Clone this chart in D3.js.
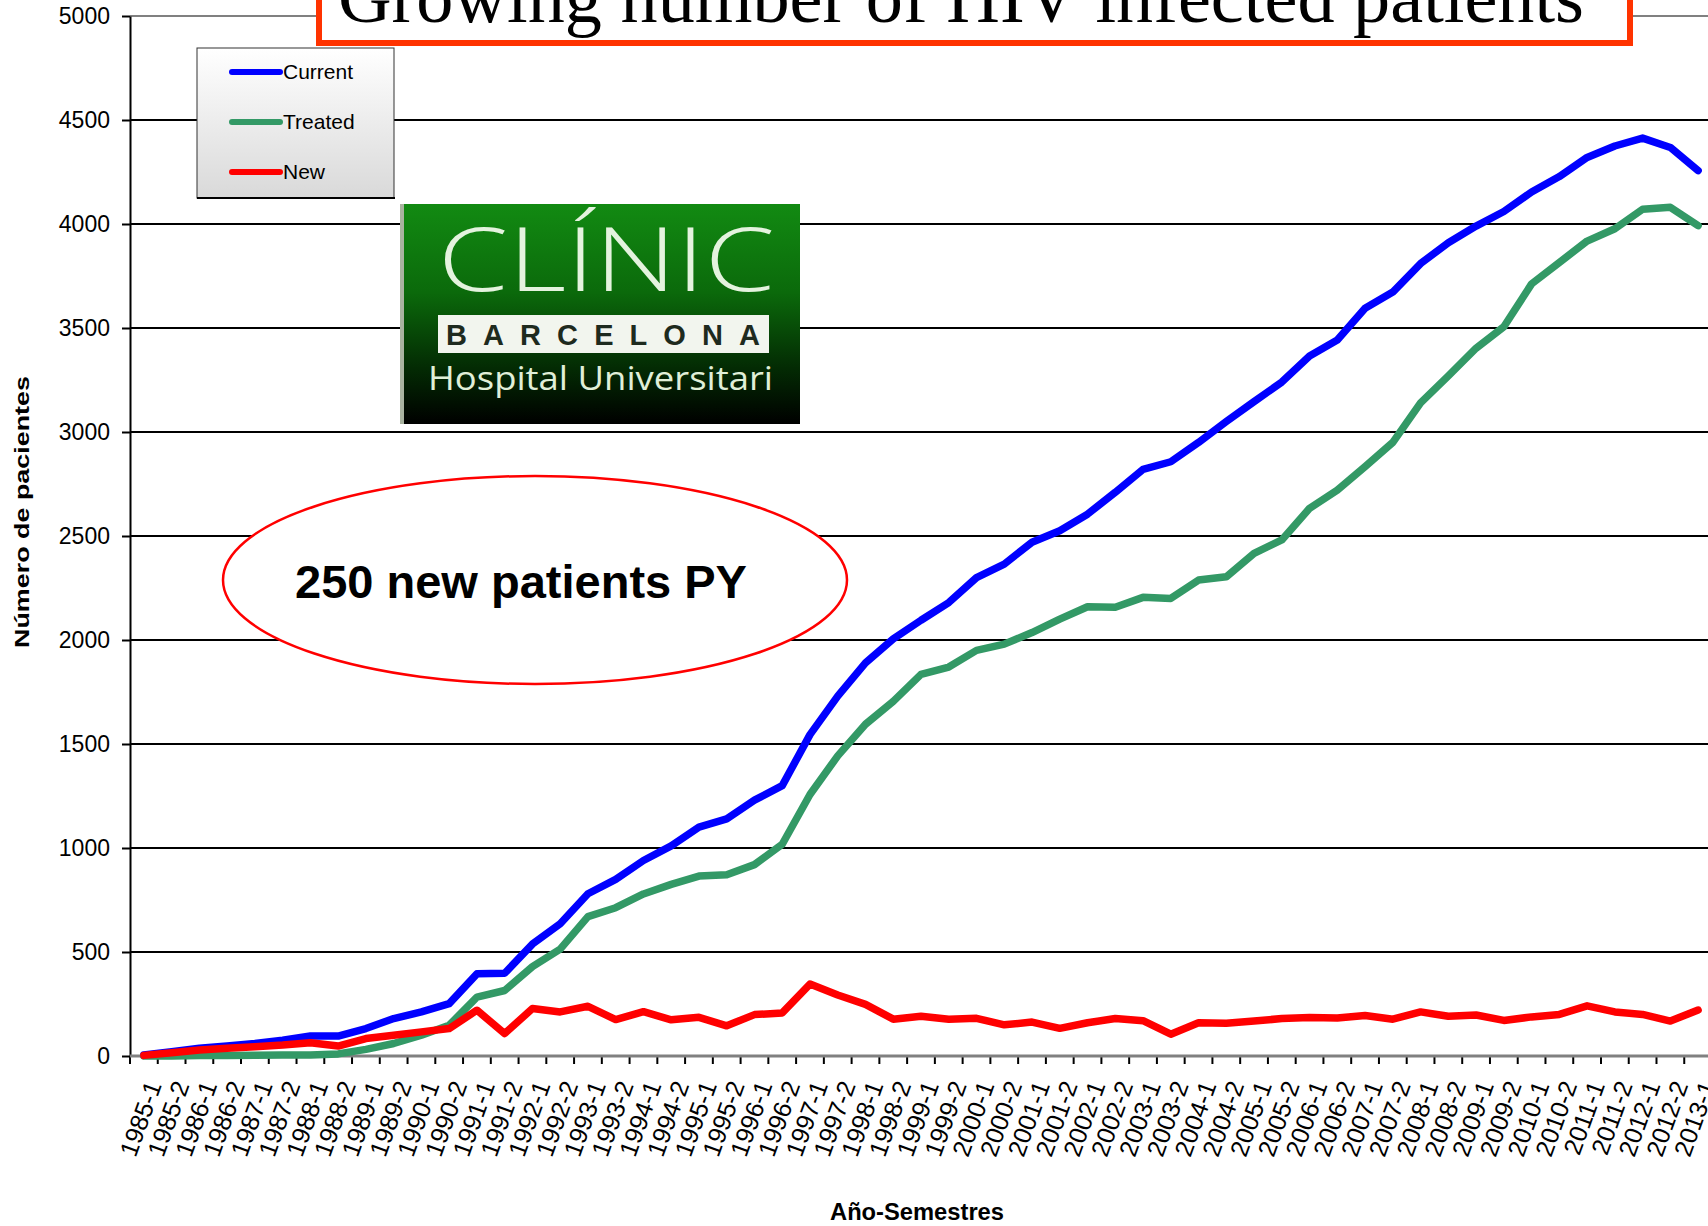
<!DOCTYPE html>
<html>
<head>
<meta charset="utf-8">
<script src="https://cdn.jsdelivr.net/npm/d3@7"></script>
<style>
  body { margin: 0; background: #fff; }
</style>
</head>
<body>
<div id="chart"></div>
<script>
// Semesters on the category axis
var semesters = ["1985-1","1985-2","1986-1","1986-2","1987-1","1987-2","1988-1","1988-2","1989-1","1989-2",
  "1990-1","1990-2","1991-1","1991-2","1992-1","1992-2","1993-1","1993-2","1994-1","1994-2",
  "1995-1","1995-2","1996-1","1996-2","1997-1","1997-2","1998-1","1998-2","1999-1","1999-2",
  "2000-1","2000-2","2001-1","2001-2","2002-1","2002-2","2003-1","2003-2","2004-1","2004-2",
  "2005-1","2005-2","2006-1","2006-2","2007-1","2007-2","2008-1","2008-2","2009-1","2009-2",
  "2010-1","2010-2","2011-1","2011-2","2012-1","2012-2","2013-1"];

// Patients per semester
var current = [5,20,37,48,60,76,96,96,132,180,212,252,395,398,538,636,780,849,940,1010,
  1100,1140,1230,1300,1545,1730,1890,2005,2095,2180,2300,2365,2470,2525,2605,2710,2820,2857,2950,3050,
  3146,3240,3365,3442,3595,3673,3810,3910,3990,4060,4154,4228,4320,4375,4413,4368,4257];
var treated = [0,0,2,3,4,5,5,10,32,60,100,148,283,315,430,514,670,713,779,825,
  865,871,920,1018,1257,1443,1595,1705,1835,1870,1950,1980,2036,2100,2160,2157,2205,2200,2288,2304,
  2417,2481,2633,2721,2833,2950,3140,3270,3403,3506,3712,3815,3918,3977,4071,4080,3992];
var newPatients = [3,16,29,37,45,53,64,48,84,100,116,132,220,108,228,212,239,175,213,174,
  186,145,199,207,346,293,248,177,191,177,181,150,163,133,160,180,170,105,160,158,
  168,180,185,183,195,177,212,191,197,171,188,200,241,212,200,168,221];

var seriesNames = ["Current", "Treated", "New"];
var seriesColors = ["#0000ff", "#339966", "#ff0000"];
var yTicks = [0,500,1000,1500,2000,2500,3000,3500,4000,4500,5000];

var sans = "'Liberation Sans', Arial, sans-serif";
var width = 1708, height = 1226;
var plot = {left: 130, right: 1712, top: 16, bottom: 1056};

var svg = d3.select("#chart").append("svg")
    .attr("width", width).attr("height", height)
    .style("font-family", sans);

var x = d3.scaleBand().domain(semesters).range([plot.left, plot.right]);
var y = d3.scaleLinear().domain([0, 5000]).range([plot.bottom, plot.top]);

// Gridlines
svg.append("g").selectAll("line")
    .data(yTicks.filter(function(d) { return d > 0 && d < 5000; }))
  .enter().append("line")
    .attr("x1", plot.left).attr("x2", width)
    .attr("y1", function(d) { return y(d); }).attr("y2", function(d) { return y(d); })
    .attr("stroke", "#000").attr("stroke-width", 2);

// plot border on top
svg.append("line").attr("x1", plot.left).attr("x2", width)
    .attr("y1", y(5000)).attr("y2", y(5000))
    .attr("stroke", "#808080").attr("stroke-width", 2);

// Y axis
var yAxis = svg.append("g").attr("transform", "translate(" + plot.left + ",0)")
    .call(d3.axisLeft(y).tickValues(yTicks).tickFormat(d3.format("d"))
      .tickSize(8).tickSizeOuter(0).tickPadding(12));
yAxis.select(".domain").attr("stroke", "#000").attr("stroke-width", 2);
yAxis.selectAll(".tick line").attr("stroke", "#000").attr("stroke-width", 2);
yAxis.selectAll("text").attr("fill", "#000")
    .style("font-size", "23px").style("font-family", sans);

// X axis: labels at band centres, ticks between categories
var xAxis = svg.append("g").attr("transform", "translate(0," + plot.bottom + ")")
    .call(d3.axisBottom(x).tickSize(0).tickSizeOuter(0));
xAxis.select(".domain").remove();
xAxis.selectAll("text")
    .attr("fill", "#000")
    .style("font-size", "25px").style("font-family", sans)
    .attr("text-anchor", "end")
    .attr("y", 0).attr("dy", "0.35em")
    .attr("transform", "translate(10,26) rotate(-70)");

svg.append("g").selectAll("line")
    .data(semesters)
  .enter().append("line")
    .attr("x1", function(d) { return x(d); }).attr("x2", function(d) { return x(d); })
    .attr("y1", plot.bottom).attr("y2", plot.bottom + 8)
    .attr("stroke", "#000").attr("stroke-width", 2);

svg.append("line").attr("x1", plot.left).attr("x2", width)
    .attr("y1", plot.bottom).attr("y2", plot.bottom)
    .attr("stroke", "#808080").attr("stroke-width", 3);

// Lines
var line = d3.line()
    .x(function(d, i) { return x(semesters[i]) + x.bandwidth() / 2; })
    .y(function(d) { return y(d); });

[current, treated, newPatients].forEach(function(s, k) {
  svg.append("path")
      .datum(s)
      .attr("d", line)
      .attr("fill", "none")
      .attr("stroke", seriesColors[k])
      .attr("stroke-width", 7.5)
      .attr("stroke-linejoin", "round")
      .attr("stroke-linecap", "round");
});

var defs = svg.append("defs");

// Legend
var lg = defs.append("linearGradient").attr("id", "legendFill")
    .attr("x1", 0).attr("y1", 0).attr("x2", 0).attr("y2", 1);
lg.append("stop").attr("offset", "0%").attr("stop-color", "#ffffff");
lg.append("stop").attr("offset", "100%").attr("stop-color", "#d9d9d9");

var legend = svg.append("g");
legend.append("rect").attr("x", 197).attr("y", 48).attr("width", 197).attr("height", 150)
    .attr("fill", "url(#legendFill)").attr("stroke", "#333").attr("stroke-width", 1);
legend.append("line").attr("x1", 197).attr("x2", 395).attr("y1", 198).attr("y2", 198)
    .attr("stroke", "#000").attr("stroke-width", 2);

seriesNames.forEach(function(name, k) {
  var ly = 72 + k * 50;
  legend.append("line").attr("x1", 232).attr("x2", 280).attr("y1", ly).attr("y2", ly)
      .attr("stroke", seriesColors[k]).attr("stroke-width", 6).attr("stroke-linecap", "round");
  legend.append("text").attr("x", 283).attr("y", ly).attr("dy", "0.35em")
      .style("font-size", "21px").text(name);
});

// Hospital logo
var gg = defs.append("linearGradient").attr("id", "logoFill")
    .attr("x1", 0).attr("y1", 0).attr("x2", 0).attr("y2", 1);
gg.append("stop").attr("offset", "0%").attr("stop-color", "#128a12");
gg.append("stop").attr("offset", "40%").attr("stop-color", "#0b6a0b");
gg.append("stop").attr("offset", "75%").attr("stop-color", "#032a03");
gg.append("stop").attr("offset", "100%").attr("stop-color", "#000");

var logo = svg.append("g");
logo.append("rect").attr("x", 400).attr("y", 204).attr("width", 400).attr("height", 220)
    .attr("fill", "url(#logoFill)");
logo.append("rect").attr("x", 400).attr("y", 204).attr("width", 4).attr("height", 220)
    .attr("fill", "#a9b3a0");
logo.append("text").attr("x", 438).attr("y", 291)
    .style("font-family", "'Open Sans', sans-serif").style("font-weight", 300)
    .style("font-size", "88px").attr("fill", "#e4f3de")
    .attr("textLength", 337).attr("lengthAdjust", "spacingAndGlyphs").text("CLÍNIC");
logo.append("rect").attr("x", 438).attr("y", 315).attr("width", 331).attr("height", 38)
    .attr("fill", "#f2f5ee");
logo.append("text").attr("x", 446).attr("y", 345)
    .style("font-size", "29px").style("font-weight", "bold").attr("fill", "#1e2a1e")
    .attr("textLength", 314).attr("lengthAdjust", "spacing").text("BARCELONA");
logo.append("text").attr("x", 428).attr("y", 390)
    .style("font-family", "'Open Sans', sans-serif")
    .style("font-size", "32px").attr("fill", "#e0efd8")
    .attr("textLength", 345).attr("lengthAdjust", "spacingAndGlyphs").text("Hospital Universitari");

// Annotation
svg.append("ellipse").attr("cx", 535).attr("cy", 580).attr("rx", 312).attr("ry", 104)
    .attr("fill", "#fff").attr("stroke", "#ff0000").attr("stroke-width", 2.5);
svg.append("text").attr("x", 521).attr("y", 598).attr("text-anchor", "middle")
    .style("font-size", "47px").style("font-weight", "bold").text("250 new patients PY");

// Title box
svg.append("rect").attr("x", 319).attr("y", -30).attr("width", 1311).attr("height", 73)
    .attr("fill", "#fff").attr("stroke", "#ff3300").attr("stroke-width", 6);
svg.append("text").attr("x", 338).attr("y", 22)
    .style("font-family", "'Liberation Serif', 'Times New Roman', serif")
    .style("font-size", "74px").attr("fill", "#000")
    .attr("textLength", 1246).attr("lengthAdjust", "spacingAndGlyphs")
    .text("Growing number of HIV infected patients");

// Axis titles
svg.append("text").attr("x", 917).attr("y", 1220).attr("text-anchor", "middle")
    .style("font-size", "23px").style("font-weight", "bold")
    .attr("textLength", 174).attr("lengthAdjust", "spacingAndGlyphs").text("Año-Semestres");
svg.append("text").attr("transform", "translate(29,512) rotate(-90)").attr("text-anchor", "middle")
    .style("font-size", "20px").style("font-weight", "bold")
    .attr("textLength", 272).attr("lengthAdjust", "spacingAndGlyphs").text("Número de pacientes");
</script>
</body>
</html>
